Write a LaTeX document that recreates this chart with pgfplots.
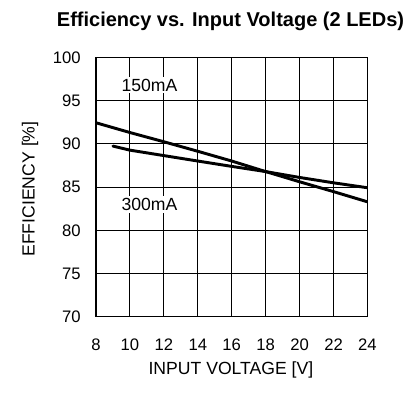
\documentclass[border=0pt]{standalone}
\usepackage{fontspec}
\setmainfont{Liberation Sans}
\usepackage{pgfplots}
\pgfplotsset{compat=1.18}
\begin{document}
\begin{tikzpicture}
\useasboundingbox (0,0) rectangle (312.75pt,294.75pt);
\begin{axis}[
  at={(72pt,57.2pt)}, anchor=south west,
  scale only axis, width=203.6pt, height=194.4pt,
  xmin=8, xmax=24, ymin=70, ymax=100,
  xtick={8,10,...,24}, ytick={70,75,...,100},
  grid=major, major grid style={black, line width=0.8pt},
  axis line style={black, line width=0.8pt},
  major tick length=0pt,
  /pgf/number format/assume math mode=true,
  tick label style={font=\fontsize{12.5pt}{14pt}\selectfont, inner sep=0pt},
  xticklabel style={anchor=base, yshift=-25pt},
  yticklabel style={anchor=east, xshift=-11.25pt},
  every axis title shift=0pt,
  title={\textbf{Efficiency vs. Input Voltage (2 LEDs)}},
  title style={at={(axis description cs:0.4954,1.1188)}, anchor=base, font=\fontsize{15pt}{18pt}\selectfont, inner sep=0pt},
  xlabel={INPUT VOLTAGE [V]},
  xlabel style={at={(axis description cs:0.497,-0.221)}, anchor=base, font=\fontsize{13.2pt}{15pt}\selectfont, inner sep=0pt},
  ylabel={EFFICIENCY [\%]},
  ylabel style={at={(axis description cs:-0.243,0.4927)}, anchor=center, font=\fontsize{13.2pt}{15pt}\selectfont, inner sep=0pt},
]
\addplot[black, line width=2.2pt, line join=round] coordinates {
(8,92.45) (10,91.32) (12,90.25) (14,89.15) (16,88.02) (18,86.8) (20,85.62) (22,84.48) (24,83.3)};
\addplot[black, line width=2.2pt, line join=round, line cap=round] coordinates {
(9.0,89.75) (10,89.28) (12,88.65) (14,88.02) (16,87.4) (18,86.8) (20,86.12) (22,85.5) (24,84.93)};
\node[font=\fontsize{13.2pt}{15pt}\selectfont, fill=white, inner sep=1.5pt] at (axis cs:11.15,96.8) {150mA};
\node[font=\fontsize{13.2pt}{15pt}\selectfont, fill=white, inner sep=1.5pt] at (axis cs:11.15,83.0) {300mA};
\end{axis}
\end{tikzpicture}
\end{document}
